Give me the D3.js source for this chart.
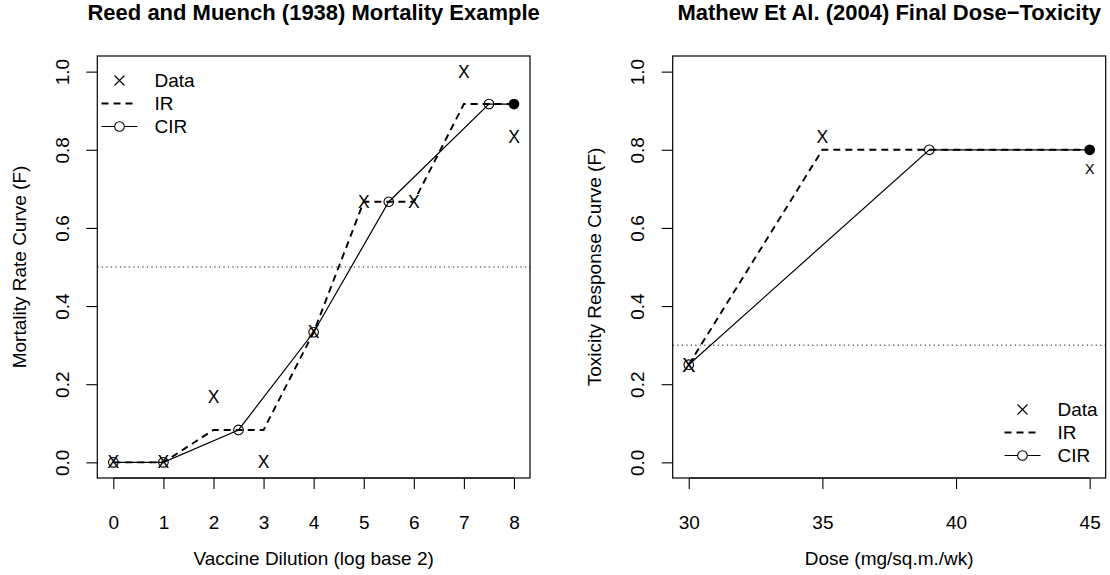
<!DOCTYPE html>
<html><head><meta charset="utf-8">
<script src="https://cdn.jsdelivr.net/npm/d3@7"></script>
<style>body{margin:0;background:#fff} svg text{font-family:"Liberation Sans",Arial,Helvetica,sans-serif;fill:#000}</style>
</head><body><svg id="c" width="1110" height="575"></svg>
<script>
// ---- data: Reed & Muench (1938) ----
const rmDose   = [0,1,2,3,4,5,6,7,8];
const rmObs    = [0,0,0.167,0,0.333,0.667,0.667,1.0,0.833];
const rmWeight = [6,6,6,6,6,6,6,6,6];
const rmIR     = [0,0,0.083,0.083,0.333,0.667,0.667,0.917,0.917];
const rmCIRx   = [0,1,2.5,4,5.5,7.5,8];
const rmCIRy   = [0,0,0.083,0.333,0.667,0.917,0.917];
const rmTarget = 0.5;
const rmXTicks = [0,1,2,3,4,5,6,7,8];
// ---- data: Mathew et al. (2004) ----
const mtDose   = [30,35,45];
const mtObs    = [0.25,0.833,0.75];
const mtWeight = [8,6,4];
const mtIR     = [0.25,0.8,0.8];
const mtCIRx   = [30,39,45];
const mtCIRy   = [0.25,0.8,0.8];
const mtTarget = 0.3;
const mtXTicks = [30,35,40,45];
const yTicks   = [0,0.2,0.4,0.6,0.8,1.0];
const legendLabels = ["Data","IR","CIR"];

const svg = d3.select("#c");
const plotTop = 56, plotBottom = 478;
const y = d3.scaleLinear().domain([-0.04,1.04]).range([plotBottom,plotTop]);

function panel(o){
  const g = svg.append("g");
  const xmin=d3.min(o.dose), xmax=d3.max(o.dose), pad=(xmax-xmin)*0.04;
  const x = d3.scaleLinear().domain([xmin-pad,xmax+pad]).range([o.left,o.right]);
  const cx = (o.left+o.right)/2;
  // title
  g.append("text").attr("x",cx).attr("y",20).attr("text-anchor","middle")
    .attr("font-size",22).attr("font-weight","bold").text(o.title);
  // target line
  g.append("line").attr("x1",o.left).attr("x2",o.right).attr("y1",y(o.target)).attr("y2",y(o.target))
    .attr("stroke","#222").attr("stroke-width",1).attr("stroke-dasharray","1.3,3.2");
  // axes
  const ax = g.append("g").attr("transform",`translate(0,${plotBottom})`)
    .call(d3.axisBottom(x).tickValues(o.xticks).tickSize(11).tickPadding(0).tickFormat(d3.format("d")));
  ax.select(".domain").remove();
  ax.selectAll("line").attr("stroke","#000").attr("stroke-width",1.1);
  ax.selectAll("text").attr("font-size",19).attr("dy",null).attr("y",44).attr("dominant-baseline","central");
  g.append("line").attr("x1",x(o.xticks[0])).attr("x2",x(o.xticks[o.xticks.length-1]))
    .attr("y1",plotBottom).attr("y2",plotBottom).attr("stroke","#000");
  const ay = g.append("g").attr("transform",`translate(${o.left},0)`)
    .call(d3.axisLeft(y).tickValues(yTicks).tickSize(11).tickFormat(d3.format(".1f")));
  ay.select(".domain").remove();
  ay.selectAll("line").attr("stroke","#000").attr("stroke-width",1.1);
  ay.selectAll("text").attr("font-size",19).attr("x",null).attr("dy",null)
    .attr("text-anchor","middle").attr("dominant-baseline","central")
    .attr("transform",`translate(${o.tickLabX-o.left},0) rotate(-90)`);
  // axis titles
  g.append("text").attr("x",cx).attr("y",558).attr("text-anchor","middle").attr("dominant-baseline","central")
    .attr("font-size",19).text(o.xlab);
  g.append("text").attr("transform",`translate(${o.yLabX},${(plotTop+plotBottom)/2}) rotate(-90)`)
    .attr("text-anchor","middle").attr("dominant-baseline","central").attr("font-size",19).text(o.ylab);
  // IR dashed
  const line = d3.line().x(d=>x(d[0])).y(d=>y(d[1]));
  g.append("path").attr("d",line(o.dose.map((d,i)=>[d,o.ir[i]]))).attr("fill","none")
    .attr("stroke","#000").attr("stroke-width",1.9).attr("stroke-dasharray","7,5");
  // CIR solid
  const cir = o.cirx.map((d,i)=>[d,o.ciry[i]]);
  g.append("path").attr("d",line(cir)).attr("fill","none").attr("stroke","#000").attr("stroke-width",1.2);
  g.selectAll(null).data(cir).enter().append("circle")
    .attr("cx",d=>x(d[0])).attr("cy",d=>y(d[1])).attr("r",4.8)
    .attr("fill",(d,i)=>i===cir.length-1?"#000":"none").attr("stroke","#000").attr("stroke-width",1.1);
  // data X markers sized by sqrt(weight / mean weight)
  const wmean = d3.mean(o.weight);
  g.selectAll(null).data(o.dose).enter().append("text")
    .attr("x",d=>x(d)).attr("y",(d,i)=>y(o.obs[i])).attr("text-anchor","middle").attr("dominant-baseline","central")
    .attr("font-size",(d,i)=>17.5*Math.sqrt(o.weight[i]/wmean)).text("X");
  // box
  g.append("rect").attr("x",o.left).attr("y",plotTop).attr("width",o.right-o.left).attr("height",plotBottom-plotTop)
    .attr("fill","none").attr("stroke","#000").attr("stroke-width",1.2);
  // legend
  const L = o.legend;
  legendLabels.forEach((lab,i)=>{
    const yy = L.y + i*23;
    if(i===0){
      const s=5;
      g.append("path").attr("d",`M${L.x-s},${yy-s}L${L.x+s},${yy+s}M${L.x-s},${yy+s}L${L.x+s},${yy-s}`)
        .attr("stroke","#000").attr("stroke-width",1.1);
    } else {
      g.append("line").attr("x1",L.x-18).attr("x2",L.x+18).attr("y1",yy).attr("y2",yy).attr("stroke","#000")
        .attr("stroke-width",i===1?1.9:1.2).attr("stroke-dasharray",i===1?"7,5":null);
      if(i===2) g.append("circle").attr("cx",L.x).attr("cy",yy).attr("r",4.8).attr("fill","#fff").attr("stroke","#000").attr("stroke-width",1.1);
    }
    g.append("text").attr("x",L.x+35).attr("y",yy).attr("dominant-baseline","central").attr("font-size",19).text(lab);
  });
}

panel({left:97.3,right:530,dose:rmDose,obs:rmObs,weight:rmWeight,ir:rmIR,cirx:rmCIRx,ciry:rmCIRy,target:rmTarget,
  xticks:rmXTicks,title:"Reed and Muench (1938) Mortality Example",xlab:"Vaccine Dilution (log base 2)",
  ylab:"Mortality Rate Curve (F)",tickLabX:62,yLabX:19,legend:{x:119.5,y:80.5}});
panel({left:672.7,right:1105.7,dose:mtDose,obs:mtObs,weight:mtWeight,ir:mtIR,cirx:mtCIRx,ciry:mtCIRy,target:mtTarget,
  xticks:mtXTicks,title:"Mathew Et Al. (2004) Final Dose\u2212Toxicity",xlab:"Dose (mg/sq.m./wk)",
  ylab:"Toxicity Response Curve (F)",tickLabX:637.5,yLabX:594,legend:{x:1022.5,y:409.5}});
</script></body></html>
